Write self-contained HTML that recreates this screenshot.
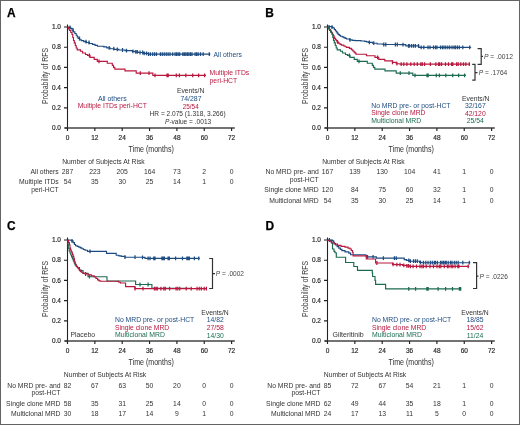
<!DOCTYPE html><html><head><meta charset="utf-8"><style>html,body{margin:0;padding:0;background:#fff;overflow:hidden;width:520px;height:425px}svg{display:block;will-change:transform}text{font-family:"Liberation Sans",sans-serif}</style></head><body>
<svg width="520" height="425" viewBox="0 0 520 425">
<rect x="0" y="0" width="520" height="425" fill="#fff"/>
<text x="7.0" y="17.0" font-size="11.9" font-weight="bold" fill="#000" stroke="#000" stroke-width="0.25">A</text>
<text x="265.3" y="17.0" font-size="11.9" font-weight="bold" fill="#000" stroke="#000" stroke-width="0.25">B</text>
<text x="7.0" y="229.8" font-size="11.9" font-weight="bold" fill="#000" stroke="#000" stroke-width="0.25">C</text>
<text x="265.5" y="229.8" font-size="11.9" font-weight="bold" fill="#000" stroke="#000" stroke-width="0.25">D</text>
<g transform="translate(0,0)">
<path d="M67.5,24.5V128.6" stroke="#222" stroke-width="1.1" fill="none"/>
<path d="M65,128.0H234.8" stroke="#444" stroke-width="1.5" fill="none"/>
<path d="M64,27.00H67.5M64,47.20H67.5M64,67.40H67.5M64,87.60H67.5M64,107.80H67.5M64,128.00H67.5M67.50,128.0V131.0M94.85,128.0V131.0M122.20,128.0V131.0M149.55,128.0V131.0M176.90,128.0V131.0M204.25,128.0V131.0M231.60,128.0V131.0" stroke="#222" stroke-width="1.15" fill="none"/>
<text x="61.00" y="29.14" font-size="6.5" fill="#2a2a2a" text-anchor="end" stroke="#2a2a2a" stroke-width="0.18">1.0</text>
<text x="61.00" y="49.34" font-size="6.5" fill="#2a2a2a" text-anchor="end" stroke="#2a2a2a" stroke-width="0.18">0.8</text>
<text x="61.00" y="69.54" font-size="6.5" fill="#2a2a2a" text-anchor="end" stroke="#2a2a2a" stroke-width="0.18">0.6</text>
<text x="61.00" y="89.74" font-size="6.5" fill="#2a2a2a" text-anchor="end" stroke="#2a2a2a" stroke-width="0.18">0.4</text>
<text x="61.00" y="109.94" font-size="6.5" fill="#2a2a2a" text-anchor="end" stroke="#2a2a2a" stroke-width="0.18">0.2</text>
<text x="61.00" y="130.14" font-size="6.5" fill="#2a2a2a" text-anchor="end" stroke="#2a2a2a" stroke-width="0.18">0.0</text>
<text x="67.50" y="139.84" font-size="6.5" fill="#2a2a2a" text-anchor="middle" stroke="#2a2a2a" stroke-width="0.18">0</text>
<text x="94.85" y="139.84" font-size="6.5" fill="#2a2a2a" text-anchor="middle" stroke="#2a2a2a" stroke-width="0.18">12</text>
<text x="122.20" y="139.84" font-size="6.5" fill="#2a2a2a" text-anchor="middle" stroke="#2a2a2a" stroke-width="0.18">24</text>
<text x="149.55" y="139.84" font-size="6.5" fill="#2a2a2a" text-anchor="middle" stroke="#2a2a2a" stroke-width="0.18">36</text>
<text x="176.90" y="139.84" font-size="6.5" fill="#2a2a2a" text-anchor="middle" stroke="#2a2a2a" stroke-width="0.18">48</text>
<text x="204.25" y="139.84" font-size="6.5" fill="#2a2a2a" text-anchor="middle" stroke="#2a2a2a" stroke-width="0.18">60</text>
<text x="231.60" y="139.84" font-size="6.5" fill="#2a2a2a" text-anchor="middle" stroke="#2a2a2a" stroke-width="0.18">72</text>
<text x="128.60" y="151.75" font-size="8.7" fill="#2e2e2e" textLength="45.20" lengthAdjust="spacingAndGlyphs">Time (months)</text>
<g transform="translate(45.0,75.9) rotate(-90)">
<text x="-28.10" y="3.04" font-size="8.8" fill="#3a3a3a" textLength="56.20" lengthAdjust="spacingAndGlyphs">Probability of RFS</text>
</g>
</g>
<g transform="translate(260,0)">
<path d="M67.5,24.5V128.6" stroke="#222" stroke-width="1.1" fill="none"/>
<path d="M65,128.0H234.8" stroke="#444" stroke-width="1.5" fill="none"/>
<path d="M64,27.00H67.5M64,47.20H67.5M64,67.40H67.5M64,87.60H67.5M64,107.80H67.5M64,128.00H67.5M67.50,128.0V131.0M94.85,128.0V131.0M122.20,128.0V131.0M149.55,128.0V131.0M176.90,128.0V131.0M204.25,128.0V131.0M231.60,128.0V131.0" stroke="#222" stroke-width="1.15" fill="none"/>
<text x="61.00" y="29.14" font-size="6.5" fill="#2a2a2a" text-anchor="end" stroke="#2a2a2a" stroke-width="0.18">1.0</text>
<text x="61.00" y="49.34" font-size="6.5" fill="#2a2a2a" text-anchor="end" stroke="#2a2a2a" stroke-width="0.18">0.8</text>
<text x="61.00" y="69.54" font-size="6.5" fill="#2a2a2a" text-anchor="end" stroke="#2a2a2a" stroke-width="0.18">0.6</text>
<text x="61.00" y="89.74" font-size="6.5" fill="#2a2a2a" text-anchor="end" stroke="#2a2a2a" stroke-width="0.18">0.4</text>
<text x="61.00" y="109.94" font-size="6.5" fill="#2a2a2a" text-anchor="end" stroke="#2a2a2a" stroke-width="0.18">0.2</text>
<text x="61.00" y="130.14" font-size="6.5" fill="#2a2a2a" text-anchor="end" stroke="#2a2a2a" stroke-width="0.18">0.0</text>
<text x="67.50" y="139.84" font-size="6.5" fill="#2a2a2a" text-anchor="middle" stroke="#2a2a2a" stroke-width="0.18">0</text>
<text x="94.85" y="139.84" font-size="6.5" fill="#2a2a2a" text-anchor="middle" stroke="#2a2a2a" stroke-width="0.18">12</text>
<text x="122.20" y="139.84" font-size="6.5" fill="#2a2a2a" text-anchor="middle" stroke="#2a2a2a" stroke-width="0.18">24</text>
<text x="149.55" y="139.84" font-size="6.5" fill="#2a2a2a" text-anchor="middle" stroke="#2a2a2a" stroke-width="0.18">36</text>
<text x="176.90" y="139.84" font-size="6.5" fill="#2a2a2a" text-anchor="middle" stroke="#2a2a2a" stroke-width="0.18">48</text>
<text x="204.25" y="139.84" font-size="6.5" fill="#2a2a2a" text-anchor="middle" stroke="#2a2a2a" stroke-width="0.18">60</text>
<text x="231.60" y="139.84" font-size="6.5" fill="#2a2a2a" text-anchor="middle" stroke="#2a2a2a" stroke-width="0.18">72</text>
<text x="128.60" y="151.75" font-size="8.7" fill="#2e2e2e" textLength="45.20" lengthAdjust="spacingAndGlyphs">Time (months)</text>
<g transform="translate(45.0,75.9) rotate(-90)">
<text x="-28.10" y="3.04" font-size="8.8" fill="#3a3a3a" textLength="56.20" lengthAdjust="spacingAndGlyphs">Probability of RFS</text>
</g>
</g>
<g transform="translate(0,213.0)">
<path d="M67.5,24.5V128.6" stroke="#222" stroke-width="1.1" fill="none"/>
<path d="M65,128.0H234.8" stroke="#444" stroke-width="1.5" fill="none"/>
<path d="M64,27.00H67.5M64,47.20H67.5M64,67.40H67.5M64,87.60H67.5M64,107.80H67.5M64,128.00H67.5M67.50,128.0V131.0M94.85,128.0V131.0M122.20,128.0V131.0M149.55,128.0V131.0M176.90,128.0V131.0M204.25,128.0V131.0M231.60,128.0V131.0" stroke="#222" stroke-width="1.15" fill="none"/>
<text x="61.00" y="29.14" font-size="6.5" fill="#2a2a2a" text-anchor="end" stroke="#2a2a2a" stroke-width="0.18">1.0</text>
<text x="61.00" y="49.34" font-size="6.5" fill="#2a2a2a" text-anchor="end" stroke="#2a2a2a" stroke-width="0.18">0.8</text>
<text x="61.00" y="69.54" font-size="6.5" fill="#2a2a2a" text-anchor="end" stroke="#2a2a2a" stroke-width="0.18">0.6</text>
<text x="61.00" y="89.74" font-size="6.5" fill="#2a2a2a" text-anchor="end" stroke="#2a2a2a" stroke-width="0.18">0.4</text>
<text x="61.00" y="109.94" font-size="6.5" fill="#2a2a2a" text-anchor="end" stroke="#2a2a2a" stroke-width="0.18">0.2</text>
<text x="61.00" y="130.14" font-size="6.5" fill="#2a2a2a" text-anchor="end" stroke="#2a2a2a" stroke-width="0.18">0.0</text>
<text x="67.50" y="139.84" font-size="6.5" fill="#2a2a2a" text-anchor="middle" stroke="#2a2a2a" stroke-width="0.18">0</text>
<text x="94.85" y="139.84" font-size="6.5" fill="#2a2a2a" text-anchor="middle" stroke="#2a2a2a" stroke-width="0.18">12</text>
<text x="122.20" y="139.84" font-size="6.5" fill="#2a2a2a" text-anchor="middle" stroke="#2a2a2a" stroke-width="0.18">24</text>
<text x="149.55" y="139.84" font-size="6.5" fill="#2a2a2a" text-anchor="middle" stroke="#2a2a2a" stroke-width="0.18">36</text>
<text x="176.90" y="139.84" font-size="6.5" fill="#2a2a2a" text-anchor="middle" stroke="#2a2a2a" stroke-width="0.18">48</text>
<text x="204.25" y="139.84" font-size="6.5" fill="#2a2a2a" text-anchor="middle" stroke="#2a2a2a" stroke-width="0.18">60</text>
<text x="231.60" y="139.84" font-size="6.5" fill="#2a2a2a" text-anchor="middle" stroke="#2a2a2a" stroke-width="0.18">72</text>
<text x="128.60" y="151.75" font-size="8.7" fill="#2e2e2e" textLength="45.20" lengthAdjust="spacingAndGlyphs">Time (months)</text>
<g transform="translate(45.0,75.9) rotate(-90)">
<text x="-28.10" y="3.04" font-size="8.8" fill="#3a3a3a" textLength="56.20" lengthAdjust="spacingAndGlyphs">Probability of RFS</text>
</g>
</g>
<g transform="translate(260,213.0)">
<path d="M67.5,24.5V128.6" stroke="#222" stroke-width="1.1" fill="none"/>
<path d="M65,128.0H234.8" stroke="#444" stroke-width="1.5" fill="none"/>
<path d="M64,27.00H67.5M64,47.20H67.5M64,67.40H67.5M64,87.60H67.5M64,107.80H67.5M64,128.00H67.5M67.50,128.0V131.0M94.85,128.0V131.0M122.20,128.0V131.0M149.55,128.0V131.0M176.90,128.0V131.0M204.25,128.0V131.0M231.60,128.0V131.0" stroke="#222" stroke-width="1.15" fill="none"/>
<text x="61.00" y="29.14" font-size="6.5" fill="#2a2a2a" text-anchor="end" stroke="#2a2a2a" stroke-width="0.18">1.0</text>
<text x="61.00" y="49.34" font-size="6.5" fill="#2a2a2a" text-anchor="end" stroke="#2a2a2a" stroke-width="0.18">0.8</text>
<text x="61.00" y="69.54" font-size="6.5" fill="#2a2a2a" text-anchor="end" stroke="#2a2a2a" stroke-width="0.18">0.6</text>
<text x="61.00" y="89.74" font-size="6.5" fill="#2a2a2a" text-anchor="end" stroke="#2a2a2a" stroke-width="0.18">0.4</text>
<text x="61.00" y="109.94" font-size="6.5" fill="#2a2a2a" text-anchor="end" stroke="#2a2a2a" stroke-width="0.18">0.2</text>
<text x="61.00" y="130.14" font-size="6.5" fill="#2a2a2a" text-anchor="end" stroke="#2a2a2a" stroke-width="0.18">0.0</text>
<text x="67.50" y="139.84" font-size="6.5" fill="#2a2a2a" text-anchor="middle" stroke="#2a2a2a" stroke-width="0.18">0</text>
<text x="94.85" y="139.84" font-size="6.5" fill="#2a2a2a" text-anchor="middle" stroke="#2a2a2a" stroke-width="0.18">12</text>
<text x="122.20" y="139.84" font-size="6.5" fill="#2a2a2a" text-anchor="middle" stroke="#2a2a2a" stroke-width="0.18">24</text>
<text x="149.55" y="139.84" font-size="6.5" fill="#2a2a2a" text-anchor="middle" stroke="#2a2a2a" stroke-width="0.18">36</text>
<text x="176.90" y="139.84" font-size="6.5" fill="#2a2a2a" text-anchor="middle" stroke="#2a2a2a" stroke-width="0.18">48</text>
<text x="204.25" y="139.84" font-size="6.5" fill="#2a2a2a" text-anchor="middle" stroke="#2a2a2a" stroke-width="0.18">60</text>
<text x="231.60" y="139.84" font-size="6.5" fill="#2a2a2a" text-anchor="middle" stroke="#2a2a2a" stroke-width="0.18">72</text>
<text x="128.60" y="151.75" font-size="8.7" fill="#2e2e2e" textLength="45.20" lengthAdjust="spacingAndGlyphs">Time (months)</text>
<g transform="translate(45.0,75.9) rotate(-90)">
<text x="-28.10" y="3.04" font-size="8.8" fill="#3a3a3a" textLength="56.20" lengthAdjust="spacingAndGlyphs">Probability of RFS</text>
</g>
</g>
<g>
<path d="M67.50,27.00H69.00V27.30H70.60V28.30H72.00V30.00H73.40V31.80H74.80V33.50H76.20V35.20H77.20V36.90H78.10V38.50H79.70V39.70H81.30V40.60H83.80V41.60H86.30V42.50H89.40V43.50H92.50V44.40H95.00V45.30H97.50V46.20H103.80V46.90H106.80V47.80H110.00V48.70H114.00V49.30H118.80V50.00H125.00V50.60H132.30V51.30H135.00V51.90H138.00V52.50H143.80V53.30H148.40V54.10H209.80V54.40" fill="none" stroke="#1d4b80" stroke-width="1.15" stroke-linejoin="miter"/>
<path d="M70.00,25.40V29.20M73.00,28.10V31.90M79.50,36.60V40.40M86.00,39.70V43.50M89.00,40.60V44.40M109.20,45.90V49.70M113.80,46.80V50.60M117.30,47.40V51.20M122.50,48.10V51.90M126.50,48.70V52.50M132.90,49.40V53.20M135.80,50.00V53.80M137.30,50.00V53.80M140.00,50.60V54.40M142.70,50.60V54.40M144.20,51.40V55.20M146.50,51.40V55.20M148.50,52.20V56.00M150.40,52.20V56.00M152.70,52.20V56.00M154.60,52.20V56.00M156.50,52.20V56.00M160.40,52.20V56.00M162.30,52.20V56.00M164.20,52.20V56.00M166.20,52.20V56.00M168.10,52.20V56.00M170.00,52.20V56.00M172.70,52.20V56.00M175.10,52.20V56.00M176.60,52.20V56.00M178.20,52.20V56.00M179.70,52.20V56.00M182.80,52.20V56.00M184.30,52.20V56.00M185.80,52.20V56.00M187.40,52.20V56.00M188.90,52.20V56.00M190.50,52.20V56.00M192.00,52.20V56.00M195.10,52.20V56.00M196.60,52.20V56.00M198.20,52.20V56.00M200.50,52.20V56.00M203.20,52.20V56.00M209.30,52.20V56.00" fill="none" stroke="#1d4b80" stroke-width="1.25"/>
<path d="M67.50,27.30H68.50V29.00H69.60V30.50H70.80V32.50H72.00V34.50H72.80V37.50H73.50V40.50H74.30V42.80H75.30V45.50H76.20V48.00H77.20V49.80H80.50V51.20H82.50V53.00H85.50V54.50H87.50V55.40H90.00V57.30H94.20V59.40H97.30V61.40H107.30V63.20H112.30V65.30H113.50V67.30H114.80V69.10H125.00V70.90H136.20V73.10H152.80V75.30H206.00V75.30" fill="none" stroke="#b8183f" stroke-width="1.15" stroke-linejoin="miter"/>
<path d="M89.40,53.50V57.30M99.00,59.50V63.30M140.30,71.20V75.00M149.00,71.20V75.00M155.00,73.40V77.20M167.00,73.40V77.20M168.20,73.40V77.20M176.30,73.40V77.20M179.40,73.40V77.20M185.80,73.40V77.20M192.70,73.40V77.20M198.60,73.40V77.20M204.60,73.40V77.20" fill="none" stroke="#b8183f" stroke-width="1.25"/>
</g>
<g transform="translate(260,0)">
<path d="M67.50,27.00H69.20V26.60H72.00V27.20H73.20V28.00H74.40V29.50H75.40V30.70H76.30V31.90H77.20V33.10H78.10V34.30H79.30V35.30H80.50V36.20H82.20V36.90H83.80V37.60H85.20V38.30H86.60V39.00H89.40V39.90H92.20V40.40H95.00V40.60H101.00V41.00H104.60V41.30H106.50V41.80H108.50V42.40H112.50V43.20H117.10V44.00H122.90V44.50H140.00V44.60H145.80V45.90H158.80V47.40H210.60V47.80" fill="none" stroke="#1d4b80" stroke-width="1.15" stroke-linejoin="miter"/>
<path d="M69.00,25.10V28.90M72.00,25.30V29.10M90.00,38.00V41.80M109.40,40.50V44.30M113.75,41.30V45.10M123.80,42.60V46.40M125.80,42.60V46.40M135.40,42.60V46.40M137.30,42.60V46.40M143.00,42.70V46.50M148.50,44.00V47.80M149.30,44.00V47.80M151.50,44.00V47.80M153.50,44.00V47.80M155.40,44.00V47.80M158.50,44.00V47.80M161.20,45.50V49.30M163.80,45.50V49.30M168.00,45.50V49.30M170.00,45.50V49.30M173.50,45.50V49.30M175.50,45.50V49.30M177.00,45.50V49.30M180.50,45.50V49.30M182.40,45.50V49.30M184.00,45.50V49.30M185.80,45.50V49.30M187.80,45.50V49.30M189.70,45.50V49.30M192.00,45.50V49.30M194.00,45.50V49.30M195.50,45.50V49.30M197.40,45.50V49.30M199.30,45.50V49.30M202.80,45.50V49.30M209.70,45.50V49.30" fill="none" stroke="#1d4b80" stroke-width="1.25"/>
<path d="M67.50,27.30H68.20V27.70H69.40V29.50H70.60V31.40H71.60V32.80H72.50V34.20H73.20V35.60H73.90V37.10H74.60V38.30H75.30V39.40H76.20V40.60H77.20V41.80H78.20V42.80H79.10V43.70H80.20V44.40H81.40V45.10H83.80V46.00H85.20V46.70H86.60V47.40H89.40V48.30H91.30V49.30H92.20V50.20H93.20V51.20H94.10V52.10H95.10V53.10H96.00V54.20H106.50V55.70H115.00V57.30H118.75V59.40H124.80V60.80H132.50V62.40H136.30V63.70H140.00V64.20H210.00V64.20" fill="none" stroke="#b8183f" stroke-width="1.15" stroke-linejoin="miter"/>
<path d="M77.50,39.90V43.70M117.60,55.40V59.20M132.50,60.50V64.30M136.90,61.80V65.60M141.20,62.30V66.10M143.80,62.30V66.10M146.90,62.30V66.10M150.80,62.30V66.10M154.20,62.30V66.10M157.30,62.30V66.10M160.80,62.30V66.10M162.30,62.30V66.10M164.60,62.30V66.10M170.40,62.30V66.10M175.80,62.30V66.10M178.50,62.30V66.10M179.70,62.30V66.10M181.60,62.30V66.10M185.50,62.30V66.10M188.50,62.30V66.10M191.60,62.30V66.10M192.80,62.30V66.10M196.60,62.30V66.10M198.20,62.30V66.10M200.80,62.30V66.10M203.50,62.30V66.10M205.80,62.30V66.10M209.30,62.30V66.10" fill="none" stroke="#b8183f" stroke-width="1.25"/>
<path d="M67.50,27.30H68.50V29.00H69.60V30.50H70.80V32.50H72.00V34.50H72.80V37.50H73.50V40.50H74.30V42.80H75.30V45.50H76.20V48.00H77.20V49.80H80.50V51.20H82.50V53.00H85.50V54.50H87.50V55.40H90.00V57.30H94.20V59.40H97.30V61.40H107.30V63.20H112.30V65.30H113.50V67.30H114.80V69.10H125.00V70.90H136.20V73.10H152.80V75.30H206.00V75.30" fill="none" stroke="#1b6b52" stroke-width="1.15" stroke-linejoin="miter"/>
<path d="M89.40,53.50V57.30M99.00,59.50V63.30M140.30,71.20V75.00M149.00,71.20V75.00M155.00,73.40V77.20M167.00,73.40V77.20M168.20,73.40V77.20M176.30,73.40V77.20M179.40,73.40V77.20M185.80,73.40V77.20M192.70,73.40V77.20M198.60,73.40V77.20M204.60,73.40V77.20" fill="none" stroke="#1b6b52" stroke-width="1.25"/>
</g>
<g transform="translate(0,213.0)">
<path d="M67.50,27.00H67.90V31.00H68.30V35.40H69.20V38.00H70.00V40.00H70.80V42.00H71.60V43.90H72.40V46.00H73.30V47.90H74.20V49.90H75.00V51.80H76.20V53.50H77.30V54.50H79.50V57.00H81.25V57.60H83.00V60.30H88.00V63.70H105.50V63.70H107.00V68.00H135.60V68.00H135.60V71.50H151.90V71.50H151.90V75.40H190.00V75.40" fill="none" stroke="#1b6b52" stroke-width="1.15" stroke-linejoin="miter"/>
<path d="M89.40,61.80V65.60M140.00,69.60V73.40M148.10,69.60V73.40" fill="none" stroke="#1b6b52" stroke-width="1.25"/>
<path d="M67.50,27.00H68.10V27.00H70.00V27.20H71.90V27.85H73.10V29.60H74.40V31.50H75.60V32.70H77.20V33.40H78.80V34.10H80.30V34.90H81.90V35.70H83.50V36.50H85.00V37.20H87.50V38.40H106.50V40.30H116.20V42.20H118.80V42.80H121.30V43.40H125.00V44.20H142.50V44.30H145.00V45.30H199.40V45.60" fill="none" stroke="#1d4b80" stroke-width="1.15" stroke-linejoin="miter"/>
<path d="M72.00,25.95V29.75M90.00,36.50V40.30M125.00,42.30V46.10M135.00,42.30V46.10M142.50,42.40V46.20M148.10,43.40V47.20M150.00,43.40V47.20M153.75,43.40V47.20M155.00,43.40V47.20M161.90,43.40V47.20M163.10,43.40V47.20M164.40,43.40V47.20M168.10,43.40V47.20M169.40,43.40V47.20M175.60,43.40V47.20M182.50,43.40V47.20M186.90,43.40V47.20M188.10,43.40V47.20M189.40,43.40V47.20M194.40,43.40V47.20M198.75,43.40V47.20" fill="none" stroke="#1d4b80" stroke-width="1.25"/>
<path d="M67.50,27.25H68.50V29.50H69.40V32.00H70.00V35.00H70.60V37.00H71.30V38.50H71.90V39.80H72.50V41.60H73.10V43.30H73.80V45.50H74.40V48.20H75.00V50.30H75.60V52.00H76.50V53.40H77.50V54.80H78.50V56.00H79.40V57.30H80.30V58.30H81.30V59.20H83.10V60.30H85.00V61.00H88.70V61.80H91.30V62.90H94.20V64.00H96.00V65.50H97.60V66.80H99.00V67.80H100.50V68.20H117.50V68.40H118.80V69.20H120.50V70.00H125.60V73.60H135.00V75.60H206.30V75.60" fill="none" stroke="#b8183f" stroke-width="1.15" stroke-linejoin="miter"/>
<path d="M85.60,59.10V62.90M135.00,73.70V77.50M143.00,73.70V77.50M154.40,73.70V77.50M155.90,73.70V77.50M157.30,73.70V77.50M160.90,73.70V77.50M163.80,73.70V77.50M165.30,73.70V77.50M169.60,73.70V77.50M176.10,73.70V77.50M177.80,73.70V77.50M179.70,73.70V77.50M186.20,73.70V77.50M191.20,73.70V77.50M197.00,73.70V77.50M199.20,73.70V77.50M201.30,73.70V77.50M204.20,73.70V77.50M206.40,73.70V77.50" fill="none" stroke="#b8183f" stroke-width="1.25"/>
</g>
<g transform="translate(260,213.0)">
<path d="M67.50,27.30H71.50V30.00H72.50V36.00H74.00V38.30H75.00V39.70H76.30V44.20H85.60V49.50H93.80V53.50H97.50V57.30H111.90V57.30H112.30V60.00H112.60V63.50H115.00V67.30H115.60V71.30H125.60V75.80H201.30V75.80" fill="none" stroke="#1b6b52" stroke-width="1.15" stroke-linejoin="miter"/>
<path d="M148.75,73.90V77.70M155.60,73.90V77.70M166.90,73.90V77.70M168.10,73.90V77.70M178.10,73.90V77.70M185.60,73.90V77.70M192.50,73.90V77.70M199.40,73.90V77.70M200.60,73.90V77.70" fill="none" stroke="#1b6b52" stroke-width="1.25"/>
<path d="M67.50,27.00H70.00V27.10H72.50V27.80H73.60V29.20H74.60V30.60H75.60V32.00H77.20V33.60H78.80V35.10H80.30V36.30H81.90V37.60H85.00V38.90H88.80V40.10H90.60V41.70H105.00V42.00H106.30V43.90H116.30V45.10H144.20V46.60H146.50V47.40H149.20V48.20H159.60V49.30H161.90V49.70H210.30V49.70" fill="none" stroke="#1d4b80" stroke-width="1.15" stroke-linejoin="miter"/>
<path d="M69.40,25.10V28.90M107.50,42.00V45.80M113.10,42.00V45.80M123.40,43.20V47.00M134.40,43.20V47.00M136.25,43.20V47.00M148.80,45.50V49.30M150.40,46.30V50.10M153.50,46.30V50.10M155.40,46.30V50.10M157.30,46.30V50.10M160.40,47.40V51.20M163.50,47.80V51.60M165.80,47.80V51.60M168.00,47.80V51.60M170.40,47.80V51.60M172.30,47.80V51.60M174.30,47.80V51.60M175.50,47.80V51.60M177.40,47.80V51.60M180.50,47.80V51.60M182.00,47.80V51.60M183.50,47.80V51.60M185.10,47.80V51.60M186.20,47.80V51.60M188.20,47.80V51.60M190.50,47.80V51.60M192.00,47.80V51.60M194.30,47.80V51.60M196.20,47.80V51.60M198.20,47.80V51.60M202.80,47.80V51.60M209.30,47.80V51.60" fill="none" stroke="#1d4b80" stroke-width="1.25"/>
<path d="M67.50,27.30H69.50V28.20H71.30V29.70H74.00V31.00H77.50V32.40H81.00V33.30H85.00V34.10H88.00V35.10H90.00V36.00H91.30V37.50H92.50V39.20H93.10V42.80H106.30V46.00H115.60V50.00H132.50V51.30H135.00V51.60H142.70V52.40H146.50V52.90H150.00V53.40H208.80V53.50" fill="none" stroke="#b8183f" stroke-width="1.15" stroke-linejoin="miter"/>
<path d="M116.90,48.10V51.90M133.10,49.40V53.20M136.90,49.70V53.50M140.00,49.70V53.50M143.80,50.50V54.30M146.90,51.00V54.80M148.50,51.00V54.80M150.40,51.50V55.30M153.10,51.50V55.30M156.50,51.50V55.30M160.00,51.50V55.30M161.90,51.50V55.30M163.50,51.50V55.30M166.20,51.50V55.30M170.00,51.50V55.30M173.50,51.50V55.30M177.00,51.50V55.30M179.30,51.50V55.30M180.80,51.50V55.30M184.30,51.50V55.30M187.40,51.50V55.30M188.90,51.50V55.30M191.20,51.50V55.30M192.80,51.50V55.30M195.10,51.50V55.30M197.80,51.50V55.30M198.90,51.50V55.30M208.20,51.50V55.30" fill="none" stroke="#b8183f" stroke-width="1.25"/>
</g>
<text x="213.50" y="57.10" font-size="6.8" fill="#1d4b80" textLength="28.40" lengthAdjust="spacingAndGlyphs">All others</text>
<text x="209.60" y="74.60" font-size="6.8" fill="#b8183f">Multiple ITDs</text>
<text x="209.60" y="82.60" font-size="6.8" fill="#b8183f">peri-HCT</text>
<text x="112.30" y="100.95" font-size="6.8" fill="#1d4b80" text-anchor="middle" textLength="28.80" lengthAdjust="spacingAndGlyphs">All others</text>
<text x="112.30" y="108.35" font-size="6.8" fill="#b8183f" text-anchor="middle" textLength="69.20" lengthAdjust="spacingAndGlyphs">Multiple ITDs peri-HCT</text>
<text x="176.90" y="93.15" font-size="6.8" fill="#333" textLength="27.50" lengthAdjust="spacingAndGlyphs">Events/N</text>
<text x="180.40" y="100.85" font-size="6.8" fill="#1d4b80" textLength="21.10" lengthAdjust="spacingAndGlyphs">74/287</text>
<text x="182.70" y="108.55" font-size="6.8" fill="#b8183f" textLength="16.00" lengthAdjust="spacingAndGlyphs">25/54</text>
<text x="149.60" y="116.15" font-size="6.8" fill="#333" textLength="76.00" lengthAdjust="spacingAndGlyphs">HR = 2.075 (1.318, 3.266)</text>
<text x="165" y="123.55" font-size="6.8" fill="#333" textLength="46.2" lengthAdjust="spacingAndGlyphs"><tspan font-style="italic">P</tspan>-value = .0013</text>
<g transform="translate(0,0)">
<text x="62.20" y="163.85" font-size="6.8" fill="#333" textLength="82.50" lengthAdjust="spacingAndGlyphs">Number of Subjects At Risk</text>
<text x="58.75" y="173.85" font-size="6.8" fill="#333" text-anchor="end">All others</text>
<text x="67.50" y="173.85" font-size="6.8" fill="#333" text-anchor="middle">287</text>
<text x="94.85" y="173.85" font-size="6.8" fill="#333" text-anchor="middle">223</text>
<text x="122.20" y="173.85" font-size="6.8" fill="#333" text-anchor="middle">205</text>
<text x="149.55" y="173.85" font-size="6.8" fill="#333" text-anchor="middle">164</text>
<text x="176.90" y="173.85" font-size="6.8" fill="#333" text-anchor="middle">73</text>
<text x="204.25" y="173.85" font-size="6.8" fill="#333" text-anchor="middle">2</text>
<text x="231.60" y="173.85" font-size="6.8" fill="#333" text-anchor="middle">0</text>
<text x="58.75" y="183.85" font-size="6.8" fill="#333" text-anchor="end">Multiple ITDs</text>
<text x="58.75" y="192.10" font-size="6.8" fill="#333" text-anchor="end">peri-HCT</text>
<text x="67.50" y="183.85" font-size="6.8" fill="#333" text-anchor="middle">54</text>
<text x="94.85" y="183.85" font-size="6.8" fill="#333" text-anchor="middle">35</text>
<text x="122.20" y="183.85" font-size="6.8" fill="#333" text-anchor="middle">30</text>
<text x="149.55" y="183.85" font-size="6.8" fill="#333" text-anchor="middle">25</text>
<text x="176.90" y="183.85" font-size="6.8" fill="#333" text-anchor="middle">14</text>
<text x="204.25" y="183.85" font-size="6.8" fill="#333" text-anchor="middle">1</text>
<text x="231.60" y="183.85" font-size="6.8" fill="#333" text-anchor="middle">0</text>
</g>
<text x="462.00" y="100.55" font-size="6.8" fill="#333" textLength="27.50" lengthAdjust="spacingAndGlyphs">Events/N</text>
<text x="371.25" y="107.55" font-size="6.8" fill="#1d4b80" textLength="79.25" lengthAdjust="spacingAndGlyphs">No MRD pre- or post-HCT</text>
<text x="475.30" y="107.95" font-size="6.8" fill="#1d4b80" text-anchor="middle">32/167</text>
<text x="371.25" y="115.15" font-size="6.8" fill="#b8183f" textLength="54.25" lengthAdjust="spacingAndGlyphs">Single clone MRD</text>
<text x="475.30" y="115.55" font-size="6.8" fill="#b8183f" text-anchor="middle">42/120</text>
<text x="371.25" y="122.75" font-size="6.8" fill="#1b6b52" textLength="50.00" lengthAdjust="spacingAndGlyphs">Multiclonal MRD</text>
<text x="475.30" y="123.15" font-size="6.8" fill="#1b6b52" text-anchor="middle">25/54</text>
<path d="M477.6,48.6H481.2V64.3H477.6M481.2,56.3H483" stroke="#333" stroke-width="1.2" fill="none"/>
<text x="484" y="58.61" font-size="6.7" fill="#444" textLength="29.0" lengthAdjust="spacingAndGlyphs"><tspan font-style="italic">P</tspan> = .0012</text>
<path d="M472.2,64.3H475.0V80.2H472.2M475.0,72.6H477.5" stroke="#333" stroke-width="1.2" fill="none"/>
<text x="478.8" y="74.91" font-size="6.7" fill="#444" textLength="28.5" lengthAdjust="spacingAndGlyphs"><tspan font-style="italic">P</tspan> = .1764</text>
<g transform="translate(260,0)">
<text x="62.20" y="163.85" font-size="6.8" fill="#333" textLength="82.50" lengthAdjust="spacingAndGlyphs">Number of Subjects At Risk</text>
<text x="58.75" y="173.85" font-size="6.8" fill="#333" text-anchor="end">No MRD pre- and</text>
<text x="58.75" y="182.10" font-size="6.8" fill="#333" text-anchor="end">post-HCT</text>
<text x="67.50" y="173.85" font-size="6.8" fill="#333" text-anchor="middle">167</text>
<text x="94.85" y="173.85" font-size="6.8" fill="#333" text-anchor="middle">139</text>
<text x="122.20" y="173.85" font-size="6.8" fill="#333" text-anchor="middle">130</text>
<text x="149.55" y="173.85" font-size="6.8" fill="#333" text-anchor="middle">104</text>
<text x="176.90" y="173.85" font-size="6.8" fill="#333" text-anchor="middle">41</text>
<text x="204.25" y="173.85" font-size="6.8" fill="#333" text-anchor="middle">1</text>
<text x="231.60" y="173.85" font-size="6.8" fill="#333" text-anchor="middle">0</text>
<text x="58.75" y="192.10" font-size="6.8" fill="#333" text-anchor="end">Single clone MRD</text>
<text x="67.50" y="192.10" font-size="6.8" fill="#333" text-anchor="middle">120</text>
<text x="94.85" y="192.10" font-size="6.8" fill="#333" text-anchor="middle">84</text>
<text x="122.20" y="192.10" font-size="6.8" fill="#333" text-anchor="middle">75</text>
<text x="149.55" y="192.10" font-size="6.8" fill="#333" text-anchor="middle">60</text>
<text x="176.90" y="192.10" font-size="6.8" fill="#333" text-anchor="middle">32</text>
<text x="204.25" y="192.10" font-size="6.8" fill="#333" text-anchor="middle">1</text>
<text x="231.60" y="192.10" font-size="6.8" fill="#333" text-anchor="middle">0</text>
<text x="58.75" y="202.85" font-size="6.8" fill="#333" text-anchor="end">Multiclonal MRD</text>
<text x="67.50" y="202.85" font-size="6.8" fill="#333" text-anchor="middle">54</text>
<text x="94.85" y="202.85" font-size="6.8" fill="#333" text-anchor="middle">35</text>
<text x="122.20" y="202.85" font-size="6.8" fill="#333" text-anchor="middle">30</text>
<text x="149.55" y="202.85" font-size="6.8" fill="#333" text-anchor="middle">25</text>
<text x="176.90" y="202.85" font-size="6.8" fill="#333" text-anchor="middle">14</text>
<text x="204.25" y="202.85" font-size="6.8" fill="#333" text-anchor="middle">1</text>
<text x="231.60" y="202.85" font-size="6.8" fill="#333" text-anchor="middle">0</text>
</g>
<text x="201.25" y="314.95" font-size="6.8" fill="#333" textLength="27.50" lengthAdjust="spacingAndGlyphs">Events/N</text>
<text x="115.00" y="321.95" font-size="6.8" fill="#1d4b80" textLength="79.25" lengthAdjust="spacingAndGlyphs">No MRD pre- or post-HCT</text>
<text x="215.20" y="322.35" font-size="6.8" fill="#1d4b80" text-anchor="middle">14/82</text>
<text x="115.00" y="329.55" font-size="6.8" fill="#b8183f" textLength="54.25" lengthAdjust="spacingAndGlyphs">Single clone MRD</text>
<text x="215.20" y="329.95" font-size="6.8" fill="#b8183f" text-anchor="middle">27/58</text>
<text x="115.00" y="337.15" font-size="6.8" fill="#1b6b52" textLength="50.00" lengthAdjust="spacingAndGlyphs">Multiclonal MRD</text>
<text x="215.20" y="337.55" font-size="6.8" fill="#1b6b52" text-anchor="middle">14/30</text>
<text x="70.50" y="337.35" font-size="6.8" fill="#333" textLength="24.50" lengthAdjust="spacingAndGlyphs">Placebo</text>
<path d="M209.2,258.5H212.5V288.5H209.2M212.5,273.6H215" stroke="#333" stroke-width="1.2" fill="none"/>
<text x="215.8" y="275.91" font-size="6.7" fill="#444" textLength="28.1" lengthAdjust="spacingAndGlyphs"><tspan font-style="italic">P</tspan> = .0002</text>
<g transform="translate(0,213.0)">
<text x="63.75" y="163.85" font-size="6.8" fill="#333" textLength="82.50" lengthAdjust="spacingAndGlyphs">Number of Subjects At Risk</text>
<text x="60.50" y="174.65" font-size="6.8" fill="#333" text-anchor="end">No MRD pre- and</text>
<text x="60.50" y="182.45" font-size="6.8" fill="#333" text-anchor="end">post-HCT</text>
<text x="67.50" y="174.65" font-size="6.8" fill="#333" text-anchor="middle">82</text>
<text x="94.85" y="174.65" font-size="6.8" fill="#333" text-anchor="middle">67</text>
<text x="122.20" y="174.65" font-size="6.8" fill="#333" text-anchor="middle">63</text>
<text x="149.55" y="174.65" font-size="6.8" fill="#333" text-anchor="middle">50</text>
<text x="176.90" y="174.65" font-size="6.8" fill="#333" text-anchor="middle">20</text>
<text x="204.25" y="174.65" font-size="6.8" fill="#333" text-anchor="middle">0</text>
<text x="231.60" y="174.65" font-size="6.8" fill="#333" text-anchor="middle">0</text>
<text x="60.50" y="192.95" font-size="6.8" fill="#333" text-anchor="end">Single clone MRD</text>
<text x="67.50" y="192.95" font-size="6.8" fill="#333" text-anchor="middle">58</text>
<text x="94.85" y="192.95" font-size="6.8" fill="#333" text-anchor="middle">35</text>
<text x="122.20" y="192.95" font-size="6.8" fill="#333" text-anchor="middle">31</text>
<text x="149.55" y="192.95" font-size="6.8" fill="#333" text-anchor="middle">25</text>
<text x="176.90" y="192.95" font-size="6.8" fill="#333" text-anchor="middle">14</text>
<text x="204.25" y="192.95" font-size="6.8" fill="#333" text-anchor="middle">0</text>
<text x="231.60" y="192.95" font-size="6.8" fill="#333" text-anchor="middle">0</text>
<text x="60.50" y="203.35" font-size="6.8" fill="#333" text-anchor="end">Multiclonal MRD</text>
<text x="67.50" y="203.35" font-size="6.8" fill="#333" text-anchor="middle">30</text>
<text x="94.85" y="203.35" font-size="6.8" fill="#333" text-anchor="middle">18</text>
<text x="122.20" y="203.35" font-size="6.8" fill="#333" text-anchor="middle">17</text>
<text x="149.55" y="203.35" font-size="6.8" fill="#333" text-anchor="middle">14</text>
<text x="176.90" y="203.35" font-size="6.8" fill="#333" text-anchor="middle">9</text>
<text x="204.25" y="203.35" font-size="6.8" fill="#333" text-anchor="middle">1</text>
<text x="231.60" y="203.35" font-size="6.8" fill="#333" text-anchor="middle">0</text>
</g>
<text x="461.25" y="314.95" font-size="6.8" fill="#333" textLength="27.50" lengthAdjust="spacingAndGlyphs">Events/N</text>
<text x="372.00" y="321.95" font-size="6.8" fill="#1d4b80" textLength="79.25" lengthAdjust="spacingAndGlyphs">No MRD pre- or post-HCT</text>
<text x="475.00" y="322.35" font-size="6.8" fill="#1d4b80" text-anchor="middle">18/85</text>
<text x="372.00" y="329.55" font-size="6.8" fill="#b8183f" textLength="54.25" lengthAdjust="spacingAndGlyphs">Single clone MRD</text>
<text x="475.00" y="329.95" font-size="6.8" fill="#b8183f" text-anchor="middle">15/62</text>
<text x="372.00" y="337.15" font-size="6.8" fill="#1b6b52" textLength="50.00" lengthAdjust="spacingAndGlyphs">Multiclonal MRD</text>
<text x="475.00" y="337.55" font-size="6.8" fill="#1b6b52" text-anchor="middle">11/24</text>
<text x="332.50" y="337.10" font-size="6.8" fill="#333" textLength="31.25" lengthAdjust="spacingAndGlyphs">Gilteritinib</text>
<path d="M473,262.6H476.6V288.5H473M476.6,276.2H478.5" stroke="#333" stroke-width="1.2" fill="none"/>
<text x="479.6" y="278.51" font-size="6.7" fill="#444" textLength="28.2" lengthAdjust="spacingAndGlyphs"><tspan font-style="italic">P</tspan> = .0226</text>
<g transform="translate(260,213.0)">
<text x="63.75" y="163.85" font-size="6.8" fill="#333" textLength="82.50" lengthAdjust="spacingAndGlyphs">Number of Subjects At Risk</text>
<text x="60.50" y="174.65" font-size="6.8" fill="#333" text-anchor="end">No MRD pre- and</text>
<text x="60.50" y="182.45" font-size="6.8" fill="#333" text-anchor="end">post-HCT</text>
<text x="67.50" y="174.65" font-size="6.8" fill="#333" text-anchor="middle">85</text>
<text x="94.85" y="174.65" font-size="6.8" fill="#333" text-anchor="middle">72</text>
<text x="122.20" y="174.65" font-size="6.8" fill="#333" text-anchor="middle">67</text>
<text x="149.55" y="174.65" font-size="6.8" fill="#333" text-anchor="middle">54</text>
<text x="176.90" y="174.65" font-size="6.8" fill="#333" text-anchor="middle">21</text>
<text x="204.25" y="174.65" font-size="6.8" fill="#333" text-anchor="middle">1</text>
<text x="231.60" y="174.65" font-size="6.8" fill="#333" text-anchor="middle">0</text>
<text x="60.50" y="192.95" font-size="6.8" fill="#333" text-anchor="end">Single clone MRD</text>
<text x="67.50" y="192.95" font-size="6.8" fill="#333" text-anchor="middle">62</text>
<text x="94.85" y="192.95" font-size="6.8" fill="#333" text-anchor="middle">49</text>
<text x="122.20" y="192.95" font-size="6.8" fill="#333" text-anchor="middle">44</text>
<text x="149.55" y="192.95" font-size="6.8" fill="#333" text-anchor="middle">35</text>
<text x="176.90" y="192.95" font-size="6.8" fill="#333" text-anchor="middle">18</text>
<text x="204.25" y="192.95" font-size="6.8" fill="#333" text-anchor="middle">1</text>
<text x="231.60" y="192.95" font-size="6.8" fill="#333" text-anchor="middle">0</text>
<text x="60.50" y="203.35" font-size="6.8" fill="#333" text-anchor="end">Multiclonal MRD</text>
<text x="67.50" y="203.35" font-size="6.8" fill="#333" text-anchor="middle">24</text>
<text x="94.85" y="203.35" font-size="6.8" fill="#333" text-anchor="middle">17</text>
<text x="122.20" y="203.35" font-size="6.8" fill="#333" text-anchor="middle">13</text>
<text x="149.55" y="203.35" font-size="6.8" fill="#333" text-anchor="middle">11</text>
<text x="176.90" y="203.35" font-size="6.8" fill="#333" text-anchor="middle">5</text>
<text x="204.25" y="203.35" font-size="6.8" fill="#333" text-anchor="middle">0</text>
<text x="231.60" y="203.35" font-size="6.8" fill="#333" text-anchor="middle">0</text>
</g>
<rect x="0.5" y="0.5" width="519" height="424" fill="none" stroke="#646464" stroke-width="1"/>
</svg></body></html>
